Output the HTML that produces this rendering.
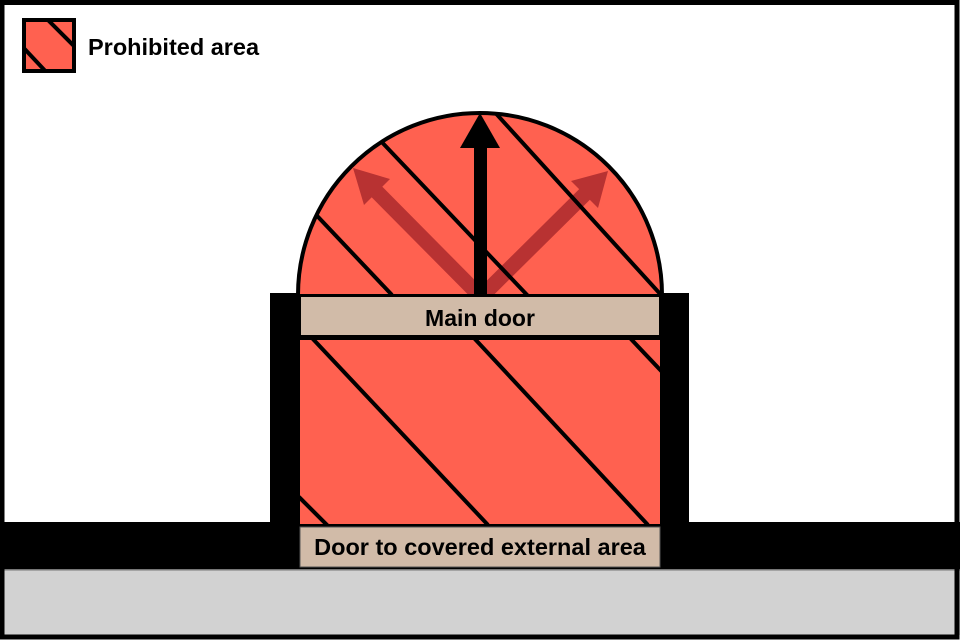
<!DOCTYPE html>
<html><head><style>
html,body{margin:0;padding:0;background:#fff}
svg{display:block}
text{font-family:"Liberation Sans",Arial,sans-serif;font-weight:bold;fill:#000}
</style></head><body>
<svg width="960" height="640" viewBox="0 0 960 640" xmlns="http://www.w3.org/2000/svg">
<defs>
<clipPath id="dome"><path d="M298,295 A182,182 0 0 1 662,295 Z"/></clipPath>
<clipPath id="room"><rect x="300" y="339" width="360" height="185"/></clipPath>
<clipPath id="leg"><rect x="24" y="20" width="50" height="51"/></clipPath>
</defs>
<rect x="0" y="0" width="960" height="640" fill="#fff"/>
<!-- ground -->
<rect x="0" y="522" width="960" height="48" fill="#000"/>
<rect x="0" y="570" width="960" height="65" fill="#d2d2d2"/>
<rect x="0" y="569" width="960" height="1.5" fill="#777"/>
<!-- walls -->
<rect x="270" y="293" width="30" height="232" fill="#000"/>
<rect x="660" y="293" width="29" height="232" fill="#000"/>
<!-- dome -->
<path d="M298,295 A182,182 0 0 1 662,295 Z" fill="#ff6150"/>
<!-- red arrows -->
<g fill="#b83232" stroke="none">
<line x1="478" y1="294" x2="374" y2="189" stroke="#b83232" stroke-width="15"/>
<polygon points="353,168 390,179 364,205"/>
<line x1="484" y1="294" x2="588" y2="191" stroke="#b83232" stroke-width="15"/>
<polygon points="608,171 598,208 571,181"/>
</g>
<g clip-path="url(#dome)" stroke="#000" stroke-width="4">
<line x1="233" y1="127" x2="392" y2="295"/>
<line x1="300" y1="56" x2="529" y2="297"/>
<line x1="420" y1="30" x2="662" y2="296"/>
</g>
<!-- black arrow -->
<rect x="474" y="146" width="13" height="150" fill="#000"/>
<polygon points="480,113 460,148 500,148" fill="#000"/>
<path d="M298,295 A182,182 0 0 1 662,295" fill="none" stroke="#000" stroke-width="4"/>
<!-- room -->
<rect x="300" y="339" width="360" height="185" fill="#ff6150"/>
<g clip-path="url(#room)" stroke="#000" stroke-width="4">
<line x1="312" y1="338" x2="488" y2="525"/>
<line x1="474" y1="338" x2="648" y2="525"/>
<line x1="630" y1="338" x2="700" y2="412"/>
<line x1="290" y1="488" x2="328" y2="526"/>
</g>
<!-- main door -->
<rect x="300" y="294" width="360" height="46" fill="#000"/>
<rect x="301" y="297" width="358" height="38" fill="#d1bba8"/>
<text x="480" y="326" font-size="23" text-anchor="middle">Main door</text>
<!-- lower door -->
<rect x="300" y="527" width="360" height="40" fill="#d1bba8" stroke="#555" stroke-width="1"/>
<text x="480" y="555" font-size="23.5" text-anchor="middle">Door to covered external area</text>
<!-- legend -->
<rect x="24" y="20" width="50" height="51" fill="#ff6150"/>
<g clip-path="url(#leg)" stroke="#000" stroke-width="4">
<line x1="46" y1="18" x2="78" y2="50"/>
<line x1="20" y1="44" x2="50" y2="76"/>
</g>
<rect x="24" y="20" width="50" height="51" fill="none" stroke="#000" stroke-width="4"/>
<text x="88" y="55" font-size="23.5">Prohibited area</text>
<!-- frame -->
<rect x="2" y="2.5" width="955" height="634.5" fill="none" stroke="#000" stroke-width="5"/>
</svg>
</body></html>
